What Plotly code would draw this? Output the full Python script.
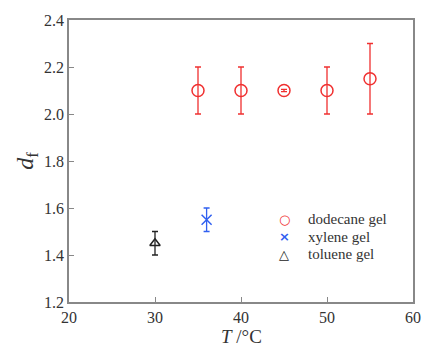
import plotly.graph_objects as go

dod_T = [35, 40, 45, 50, 55]
dod_df = [2.10, 2.10, 2.10, 2.10, 2.15]
dod_err = [0.10, 0.10, 0.005, 0.10, 0.15]

xyl_T = [36]
xyl_df = [1.55]
xyl_err = [0.05]

tol_T = [30]
tol_df = [1.45]
tol_err = [0.05]

x_ticks = [20, 30, 40, 50, 60]
y_ticks = [1.2, 1.4, 1.6, 1.8, 2.0, 2.2, 2.4]

legend_names = ["dodecane gel", "xylene gel", "toluene gel"]
legend_symbols = ["○", "×", "△"]

red = "#f03030"
blue = "#3060f0"
black = "#222222"
colors = [red, blue, black]
font = "Liberation Serif, Times New Roman, serif"

fig = go.Figure()
fig.add_trace(go.Scatter(
    x=dod_T, y=dod_df, mode="markers", name=legend_names[0],
    marker=dict(symbol="circle-open", size=12, color=red, line=dict(width=1.5, color=red)),
    error_y=dict(type="data", array=dod_err, color=red, thickness=1.3, width=3),
))
fig.add_trace(go.Scatter(
    x=xyl_T, y=xyl_df, mode="markers", name=legend_names[1],
    marker=dict(symbol="x-thin-open", size=10, color=blue, line=dict(width=1.5, color=blue)),
    error_y=dict(type="data", array=xyl_err, color=blue, thickness=1.3, width=3),
))
fig.add_trace(go.Scatter(
    x=tol_T, y=tol_df, mode="markers", name=legend_names[2],
    marker=dict(symbol="triangle-up-open", size=9, color=black, line=dict(width=1.5, color=black)),
    error_y=dict(type="data", array=tol_err, color=black, thickness=1.3, width=3),
))

# manual legend (text)
row_y = [0.294, 0.232, 0.170]
for name, sym, col, yy in zip(legend_names, legend_symbols, colors, row_y):
    fig.add_annotation(xref="paper", yref="paper", x=0.625, y=yy, text="<b>" + sym + "</b>",
                       showarrow=False, xanchor="center", yanchor="middle",
                       font=dict(family="DejaVu Sans", size=13, color=col))
    fig.add_annotation(xref="paper", yref="paper", x=0.69, y=yy, text=name,
                       showarrow=False, xanchor="left", yanchor="middle",
                       font=dict(family=font, size=15, color="#333333"))

# x-axis title
fig.add_annotation(xref="paper", yref="paper", x=0.5, y=-0.122, text="<i>T</i> /°C",
                   showarrow=False, xanchor="center", yanchor="middle",
                   font=dict(family=font, size=19, color="#333333"))

axis_common = dict(
    showline=True, linecolor="#888888", linewidth=1.5, mirror=True,
    ticks="inside", ticklen=5, tickcolor="#888888", tickwidth=1.2,
    showgrid=False, zeroline=False,
    tickfont=dict(family=font, size=16, color="#333333"),
)

fig.update_layout(
    width=431, height=346,
    margin=dict(l=69, r=10, t=20, b=44),
    paper_bgcolor="white", plot_bgcolor="white",
    font=dict(family=font, color="#333333"),
    showlegend=False,
    xaxis=dict(range=[20, 60], tickvals=x_ticks, ticktext=[str(v) for v in x_ticks],
               **axis_common),
    yaxis=dict(range=[1.2, 2.4], tickvals=y_ticks, ticktext=[f"{v:.1f}" for v in y_ticks],
               title=dict(text="<i>d</i><sub>f</sub>", font=dict(family=font, size=24, color="#333333"), standoff=4),
               **axis_common),
)

fig.write_html("out.html")
